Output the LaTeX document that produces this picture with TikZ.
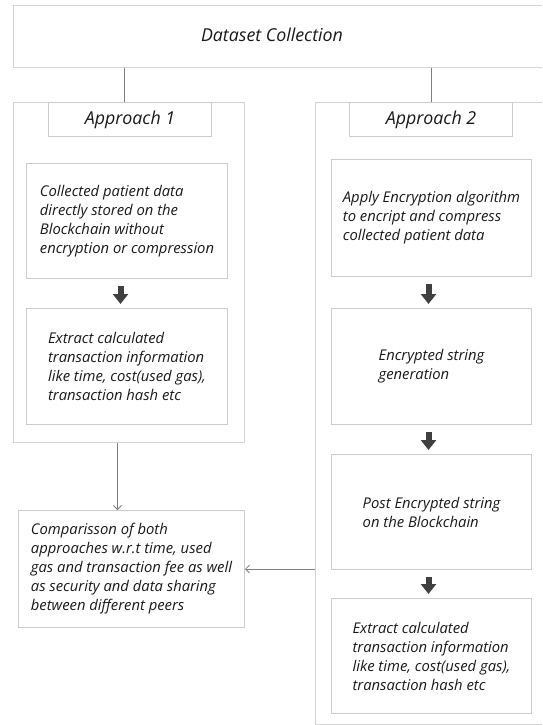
\documentclass[tikz,border=0pt]{standalone}
\usepackage{fontspec}
\setmainfont{Open Sans}
\usetikzlibrary{arrows.meta,positioning}

\begin{document}
\begin{tikzpicture}[x=1pt,y=-1pt,node distance=29pt]
\tikzstyle{box}=[draw=black!20,line width=1pt,inner sep=0pt,anchor=north west,align=left,text=black!90,font=\itshape\fontsize{14.8}{19}\selectfont]
\tikzstyle{frame}=[box,draw=black!17]
\tikzstyle{title}=[box,align=center,font=\itshape\fontsize{17.8}{21}\selectfont]
\tikzstyle{link}=[draw=black!50,line width=0.8pt,-{Straight Barb[length=4pt,width=8pt]}]
\tikzstyle{blockarrow}=[draw=black!75,line width=6pt,-{Triangle[width=15pt,length=10pt]},shorten <=7pt,shorten >=4pt]

\useasboundingbox (0,0) rectangle (542,725);
\clip (0,0) rectangle (542,725);

\node[frame,minimum width=545pt,minimum height=62pt] (data) at (13,5) {};
\node[title,draw=none,anchor=center] (datatext) at (272,35) {Dataset Collection};

% approach 1
\node[frame,minimum width=231pt,minimum height=340pt] (app1) at (13,102) {};
\node[title,minimum width=163pt,minimum height=34pt] (head1) at (48,102) {Approach 1};
\node[box,minimum width=201pt,minimum height=115pt] (store) at (26,163) {Collected patient data\\directly stored on the\\Blockchain without\\encryption or compression};
\node[box,minimum width=201pt,minimum height=116pt,below=of store] (extract1) {Extract calculated\\transaction information\\like time, cost(used gas),\\transaction hash etc};

% approach 2
\node[frame,minimum width=240pt,minimum height=622pt] (app2) at (315,102) {};
\node[title,minimum width=163pt,minimum height=34pt] (head2) at (349,102) {Approach 2};
\node[box,minimum width=200pt,minimum height=117pt] (encrypt) at (331,159) {Apply Encryption algorithm\\to encript and compress\\collected patient data};
\node[box,minimum width=200pt,minimum height=116pt,below=31pt of encrypt] (string) {Encrypted string\\generation};
\node[box,minimum width=200pt,minimum height=115pt,below=29pt of string] (post) {Post Encrypted string\\on the Blockchain};
\node[box,minimum width=200pt,minimum height=115pt,below=28pt of post] (extract2) {Extract calculated\\transaction information\\like time, cost(used gas),\\transaction hash etc};

\node[box,minimum width=226pt,minimum height=117pt] (compare) at (18,510) {Comparisson of both\\approaches w.r.t time, used\\gas and transaction fee as well\\as security and data sharing\\between different peers};

\draw[link,-] ([xshift=-5.5pt]head1.north) -- ([xshift=-5.5pt]head1.north |- data.south);
\draw[link,-] (head2.north) -- (head2.north |- data.south);

\draw[blockarrow] ([xshift=-6.5pt]store.south) -- ([xshift=-6.5pt]extract1.north);
\draw[blockarrow] ([xshift=-3pt]encrypt.south) -- ([xshift=-3pt]string.north);
\draw[blockarrow] ([xshift=-3pt]string.south) -- ([xshift=-3pt]post.north);
\draw[blockarrow] ([xshift=-3pt]post.south) -- ([xshift=-3pt]extract2.north);

\draw[link] ([xshift=-14pt]compare.north |- app1.south) -- ([xshift=-14pt]compare.north);
\draw[link] (app2.west |- compare.east) -- (compare.east);
\end{tikzpicture}
\end{document}
